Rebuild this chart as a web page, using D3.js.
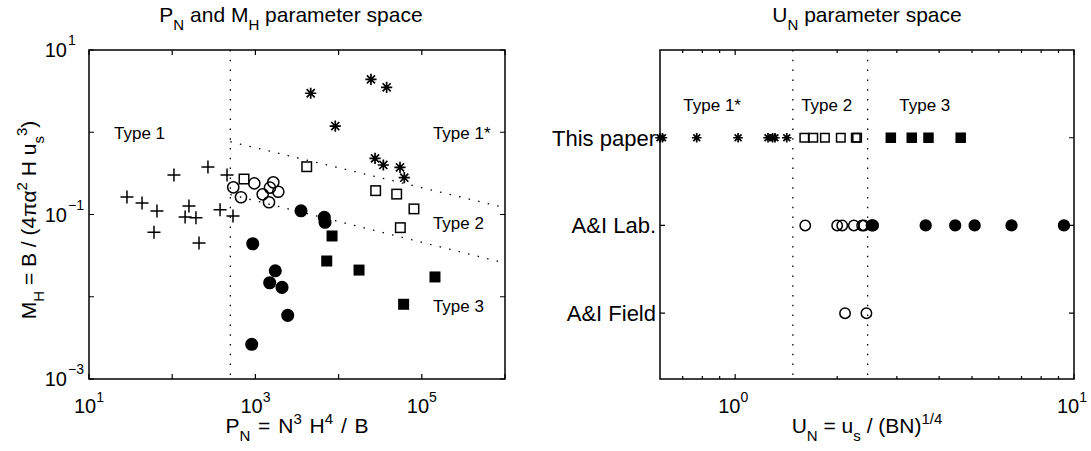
<!DOCTYPE html>
<html><head><meta charset="utf-8">
<script src="https://cdn.jsdelivr.net/npm/d3@7"></script>
<style>
html,body{margin:0;padding:0;background:#fff;}
svg text{font-family:"Liberation Sans",Arial,Helvetica,sans-serif;fill:#000;}
</style></head>
<body>
<svg id="chart" width="1091" height="451"></svg>
<script>
// ---------- Left panel data (P_N, M_H) ----------
const plusP = [105, 269, 456, 28.6, 43.4, 65.6, 159, 143, 193, 376, 538, 60.4, 210];
const plusM = [0.302, 0.378, 0.302, 0.163, 0.138, 0.110, 0.127, 0.093, 0.091, 0.114, 0.096, 0.061, 0.045];
const openCircP = [542, 671, 970, 1224, 1457, 1641, 1496, 1884];
const openCircM = [0.214, 0.162, 0.239, 0.176, 0.141, 0.246, 0.212, 0.189];
const filledCircP = [3532, 6730, 6870, 929, 1734, 1485, 2089, 2445, 903];
const filledCircM = [0.111, 0.0925, 0.0804, 0.0441, 0.0207, 0.0148, 0.0130, 0.00594, 0.00264];
const starP = [24500, 37800, 4620, 9120, 27400, 34500, 54700, 61600];
const starM = [4.40, 3.52, 2.98, 1.19, 0.482, 0.400, 0.375, 0.280];
const openSqP = [730, 4140, 27900, 49900, 80500, 55200];
const openSqM = [0.270, 0.381, 0.195, 0.177, 0.117, 0.0692];
const filledSqP = [8340, 7200, 17600, 144000, 60500];
const filledSqM = [0.0548, 0.0272, 0.0211, 0.0174, 0.0081];
// regime boundaries
const boundaryP = 500;
const upperLineP = [500, 1e6], upperLineM = [0.767, 0.121];
const lowerLineP = [500, 1e6], lowerLineM = [0.175, 0.0257];
const leftXTicks = [1e1, 1e2, 1e3, 1e4, 1e5, 1e6];
const leftXLabels = [[10, "1"], [1e3, "3"], [1e5, "5"]];
const leftYTicks = [1e-3, 1e-2, 1e-1, 1, 10];
const leftYLabels = [[10, "1"], [0.1, "\u22121"], [1e-3, "\u22123"]];
const leftTypeLabels = [["Type 1", 20, 0.83], ["Type 1*", 1.36e5, 0.83], ["Type 2", 1.36e5, 0.0667], ["Type 3", 1.36e5, 0.00653]];

// ---------- Right panel data (U_N) ----------
const categories = ["This paper", "A&I Lab.", "A&I Field"];
const categoryPos = [3, 2, 1];
const thisStarU = [0.60, 0.61, 0.77, 1.02, 1.25, 1.29, 1.31, 1.42];
const thisOpenSqU = [1.60, 1.70, 1.84, 2.05, 2.27, 2.29];
const thisFilledSqU = [2.88, 3.32, 3.72, 4.63];
const labOpenCircU = [1.61, 2.00, 2.07, 2.24, 2.37, 2.40];
const labFilledCircU = [2.53, 2.55, 3.65, 4.46, 5.09, 6.54, 9.34];
const fieldOpenCircU = [2.11, 2.44];
const boundaryU = [1.48, 2.46];
const rightXMajor = [1, 10];
const rightXMinor = [0.7, 0.8, 0.9, 2, 3, 4, 5, 6, 7, 8, 9];
const rightTypeLabels = [["Type 1*", 0.703], ["Type 2", 1.566], ["Type 3", 3.05]];

const svg = d3.select("#chart");
const FONT = 17, BIG = 21, TICK = 20, EXP = 14, SUB = 15;

// scales
const xL = d3.scaleLog().domain([10, 1e6]).range([89, 505]);
const yL = d3.scaleLog().domain([1e-3, 10]).range([379, 50]);
const xR = d3.scaleLog().domain([0.6, 10]).range([660, 1074]);
const yR = d3.scaleLinear().domain([0.25, 4]).range([379, 50]);

const dotted = "1.5,8.3";

// marker helpers
function plus(g, x, y, s) {
  g.append("path").attr("d", `M${x - s},${y}H${x + s}M${x},${y - s}V${y + s}`)
    .attr("stroke", "#000").attr("stroke-width", 1.5).attr("fill", "none");
}
function star(g, x, y, s) {
  const d = s * 0.72;
  g.append("path").attr("d", `M${x - s},${y}H${x + s}M${x},${y - s}V${y + s}M${x - d},${y - d}L${x + d},${y + d}M${x - d},${y + d}L${x + d},${y - d}`)
    .attr("stroke", "#000").attr("stroke-width", 1.7).attr("fill", "none");
}
function circ(g, x, y, r, filled) {
  g.append("circle").attr("cx", x).attr("cy", y).attr("r", r)
    .attr("fill", filled ? "#000" : "none")
    .attr("stroke", "#000").attr("stroke-width", 1.5);
}
function sq(g, x, y, s, filled) {
  g.append("rect").attr("x", x - s / 2).attr("y", y - s / 2).attr("width", s).attr("height", s)
    .attr("fill", filled ? "#000" : "none").attr("stroke", "#000").attr("stroke-width", 1.5);
}

// ================= LEFT PANEL =================
const gL = svg.append("g");
gL.append("line").attr("x1", xL(boundaryP)).attr("x2", xL(boundaryP)).attr("y1", yL(10)).attr("y2", yL(1e-3))
  .attr("stroke", "#000").attr("stroke-width", 1.3).attr("stroke-dasharray", dotted);
const lineGen = d3.line().x(d => xL(d[0])).y(d => yL(d[1]));
gL.append("path").attr("d", lineGen(d3.zip(upperLineP, upperLineM)))
  .attr("stroke", "#000").attr("stroke-width", 1.3).attr("fill", "none").attr("stroke-dasharray", dotted);
gL.append("path").attr("d", lineGen(d3.zip(lowerLineP, lowerLineM)))
  .attr("stroke", "#000").attr("stroke-width", 1.3).attr("fill", "none").attr("stroke-dasharray", dotted);

plusP.forEach((p, i) => plus(gL, xL(p), yL(plusM[i]), 6.5));
openCircP.forEach((p, i) => circ(gL, xL(p), yL(openCircM[i]), 5.6, false));
filledCircP.forEach((p, i) => circ(gL, xL(p), yL(filledCircM[i]), 5.8, true));
starP.forEach((p, i) => star(gL, xL(p), yL(starM[i]), 5.6));
openSqP.forEach((p, i) => sq(gL, xL(p), yL(openSqM[i]), 9.5, false));
filledSqP.forEach((p, i) => sq(gL, xL(p), yL(filledSqM[i]), 9.5, true));

gL.append("rect").attr("x", 89).attr("y", 50).attr("width", 416).attr("height", 329)
  .attr("fill", "none").attr("stroke", "#000").attr("stroke-width", 1.5);
leftXTicks.forEach(t => {
  const x = xL(t);
  gL.append("path").attr("d", `M${x},379V374M${x},50V55`).attr("stroke", "#000").attr("stroke-width", 1.2);
});
leftYTicks.forEach(t => {
  const y = yL(t);
  gL.append("path").attr("d", `M89,${y}H94M505,${y}H500`).attr("stroke", "#000").attr("stroke-width", 1.2);
});
leftXLabels.forEach(([v, e]) => {
  const t = gL.append("text").attr("x", xL(v)).attr("y", 413).attr("text-anchor", "middle").attr("font-size", TICK);
  t.append("tspan").text("10");
  t.append("tspan").attr("dy", -11).attr("font-size", EXP).text(e);
});
leftYLabels.forEach(([v, e]) => {
  const y = yL(v);
  gL.append("text").attr("x", 67).attr("y", y + 7).attr("text-anchor", "end").attr("font-size", TICK).text("10");
  gL.append("text").attr("x", 68).attr("y", y - 5).attr("font-size", EXP).text(e);
});
leftTypeLabels.forEach(([s, p, m]) => {
  gL.append("text").attr("x", xL(p)).attr("y", yL(m)).attr("font-size", FONT).text(s);
});
{
  const t = gL.append("text").attr("x", 291).attr("y", 22).attr("text-anchor", "middle").attr("font-size", BIG);
  t.append("tspan").text("P");
  t.append("tspan").attr("dy", 8).attr("font-size", SUB).text("N");
  t.append("tspan").attr("dy", -8).text(" and M");
  t.append("tspan").attr("dy", 8).attr("font-size", SUB).text("H");
  t.append("tspan").attr("dy", -8).text(" parameter space");
}
{
  const t = gL.append("text").attr("x", 297).attr("y", 433).attr("text-anchor", "middle").attr("font-size", BIG)
    .attr("word-spacing", 2);
  t.append("tspan").text("P");
  t.append("tspan").attr("dy", 8).attr("font-size", SUB).text("N");
  t.append("tspan").attr("dy", -8).text(" = N");
  t.append("tspan").attr("dy", -9).attr("font-size", SUB).text("3");
  t.append("tspan").attr("dy", 9).text(" H");
  t.append("tspan").attr("dy", -9).attr("font-size", SUB).text("4");
  t.append("tspan").attr("dy", 9).text(" / B");
}
{
  const t = gL.append("text").attr("transform", "translate(36,220) rotate(-90)").attr("text-anchor", "middle").attr("font-size", BIG);
  t.append("tspan").text("M");
  t.append("tspan").attr("dy", 8).attr("font-size", SUB).text("H");
  t.append("tspan").attr("dy", -8).text(" = B / (4\u03C0\u03B1");
  t.append("tspan").attr("dy", -9).attr("font-size", SUB).text("2");
  t.append("tspan").attr("dy", 9).text(" H u");
  t.append("tspan").attr("dy", 8).attr("font-size", SUB).text("s");
  t.append("tspan").attr("dy", -17).attr("font-size", SUB).text("3");
  t.append("tspan").attr("dy", 9).text(")");
}

// ================= RIGHT PANEL =================
const gR = svg.append("g");
boundaryU.forEach(u => {
  gR.append("line").attr("x1", xR(u)).attr("x2", xR(u)).attr("y1", 50).attr("y2", 379)
    .attr("stroke", "#000").attr("stroke-width", 1.3).attr("stroke-dasharray", dotted);
});
const yThis = yR(categoryPos[0]), yLab = yR(categoryPos[1]), yField = yR(categoryPos[2]);
thisStarU.forEach(u => star(gR, xR(u), yThis, 4.8));
thisOpenSqU.forEach(u => sq(gR, xR(u), yThis, 8.5, false));
thisFilledSqU.forEach(u => sq(gR, xR(u), yThis, 9, true));
labOpenCircU.forEach(u => circ(gR, xR(u), yLab, 5.2, false));
labFilledCircU.forEach(u => circ(gR, xR(u), yLab, 5.4, true));
fieldOpenCircU.forEach(u => circ(gR, xR(u), yField, 5.2, false));

gR.append("rect").attr("x", 660).attr("y", 50).attr("width", 414).attr("height", 329)
  .attr("fill", "none").attr("stroke", "#000").attr("stroke-width", 1.5);
rightXMajor.forEach(t => {
  const x = xR(t);
  gR.append("path").attr("d", `M${x},379V374M${x},50V55`).attr("stroke", "#000").attr("stroke-width", 1.2);
});
rightXMinor.forEach(t => {
  const x = xR(t);
  gR.append("path").attr("d", `M${x},379V376M${x},50V53`).attr("stroke", "#000").attr("stroke-width", 1.2);
});
categoryPos.forEach((c, i) => {
  const y = yR(c);
  gR.append("path").attr("d", `M660,${y}H665M1074,${y}H1069`).attr("stroke", "#000").attr("stroke-width", 1.2);
  gR.append("text").attr("x", 656).attr("y", y + 8).attr("text-anchor", "end").attr("font-size", 22).text(categories[i]);
});
rightXMajor.forEach((v, i) => {
  const t = gR.append("text").attr("x", xR(v) - 2).attr("y", 413).attr("text-anchor", "middle").attr("font-size", TICK);
  t.append("tspan").text("10");
  t.append("tspan").attr("dy", -11).attr("font-size", EXP).text(String(i));
});
rightTypeLabels.forEach(([s, u]) => {
  gR.append("text").attr("x", xR(u)).attr("y", 111).attr("font-size", FONT).text(s);
});
{
  const t = gR.append("text").attr("x", 867).attr("y", 22).attr("text-anchor", "middle").attr("font-size", BIG);
  t.append("tspan").text("U");
  t.append("tspan").attr("dy", 8).attr("font-size", SUB).text("N");
  t.append("tspan").attr("dy", -8).text(" parameter space");
}
{
  const t = gR.append("text").attr("x", 867).attr("y", 433).attr("text-anchor", "middle").attr("font-size", BIG);
  t.append("tspan").text("U");
  t.append("tspan").attr("dy", 8).attr("font-size", SUB).text("N");
  t.append("tspan").attr("dy", -8).text(" = u");
  t.append("tspan").attr("dy", 8).attr("font-size", SUB).text("s");
  t.append("tspan").attr("dy", -8).text(" / (BN)");
  t.append("tspan").attr("dy", -9).attr("font-size", SUB).text("1/4");
}
</script>
</body></html>
